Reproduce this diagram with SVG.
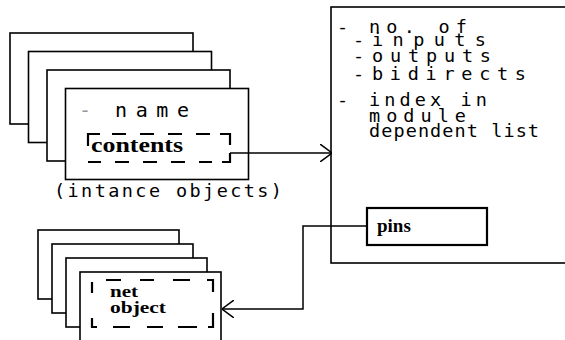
<svg xmlns="http://www.w3.org/2000/svg" width="565" height="340" viewBox="0 0 565 340">
<style>
  .box{fill:#fff;stroke:#000;stroke-width:1.6}
  .thick{fill:#fff;stroke:#000;stroke-width:2.2}
  .dash{fill:none;stroke:#000;stroke-width:2.2}
  .conn{fill:none;stroke:#000;stroke-width:1.5}
  .mono{font-family:"DejaVu Sans Mono","Liberation Mono",monospace;font-size:18.5px;fill:#000}
  .bold{font-family:"Liberation Serif","DejaVu Serif",serif;font-weight:bold;fill:#000}
</style>
<defs>
  <marker id="arr" markerUnits="userSpaceOnUse" viewBox="0 0 12 18" refX="12" refY="9" markerWidth="12" markerHeight="18" orient="auto">
    <path d="M0,0 L12,9 L0,18" fill="none" stroke="#000" stroke-width="1.5"/>
  </marker>
</defs>

<g id="instance-objects">
  <rect class="box" x="10" y="33" width="183" height="91"/>
  <rect class="box" x="28.5" y="51.5" width="183" height="91"/>
  <rect class="box" x="47" y="70" width="183" height="91"/>
  <rect class="box" x="65.5" y="88.5" width="183" height="91"/>
  <text class="mono" y="117" style="font-size:20px"><tspan x="79" style="fill:#999">-</tspan><tspan x="115" textLength="74" lengthAdjust="spacing">name</tspan></text>
  <g id="contents">
    <path class="dash" d="M88,146 V134 H100 M112,134 H126 M140,134 H154 M168,134 H182 M196,134 H210 M220,134 H230 V145 M88,162 H101 M115,162 H129 M143,162 H157 M171,162 H185 M199,162 H212 M222,162 H230 V153"/>
    <text class="bold" x="91" y="152" style="font-size:20px" textLength="92" lengthAdjust="spacingAndGlyphs">contents</text>
  </g>
  <text class="mono" x="54" y="197" textLength="228" lengthAdjust="spacing">(intance objects)</text>
</g>

<g id="module-box">
  <rect class="box" x="331" y="7" width="300" height="256"/>
  <text class="mono" y="33"><tspan x="337">-</tspan><tspan x="369" textLength="98" lengthAdjust="spacing">no. of</tspan></text>
  <text class="mono" y="46"><tspan x="353">-</tspan><tspan x="372" textLength="114" lengthAdjust="spacing">inputs</tspan></text>
  <text class="mono" y="62"><tspan x="353">-</tspan><tspan x="372" textLength="119" lengthAdjust="spacing">outputs</tspan></text>
  <text class="mono" y="80"><tspan x="353">-</tspan><tspan x="372" textLength="154" lengthAdjust="spacing">bidirects</tspan></text>
  <text class="mono" y="106"><tspan x="337">-</tspan><tspan x="369" textLength="118" lengthAdjust="spacing">index in</tspan></text>
  <text class="mono" x="369" y="122" textLength="97" lengthAdjust="spacing">module</text>
  <text class="mono" x="369" y="137" textLength="170" lengthAdjust="spacing">dependent list</text>
  <g id="pins">
    <rect class="thick" x="367" y="208" width="120" height="37"/>
    <text class="bold" x="377" y="232" style="font-size:19px">pins</text>
  </g>
</g>

<g id="net-objects">
  <rect class="box" x="38" y="230" width="141" height="69"/>
  <rect class="box" x="52" y="244" width="141" height="69"/>
  <rect class="box" x="66" y="258" width="141" height="69"/>
  <rect class="box" x="80" y="272" width="141" height="80"/>
  <path class="dash" d="M106,280 H121 M140,280 H154 M173,280 H190 M207,280 H213 V292 M92,282 V293 M92,318 V327 H97 M113,327 H130 M147,327 H163 M178,327 H197 M208,327 H213 V313"/>
  <text class="bold" x="110" y="297" style="font-size:17px" textLength="28" lengthAdjust="spacingAndGlyphs">net</text>
  <text class="bold" x="110" y="313" style="font-size:17px" textLength="56" lengthAdjust="spacingAndGlyphs">object</text>
</g>

<g id="connectors">
  <path class="conn" d="M230,153 H332" marker-end="url(#arr)"/>
  <path class="conn" d="M367,226 H303 V309 H222" marker-end="url(#arr)"/>
</g>
</svg>
